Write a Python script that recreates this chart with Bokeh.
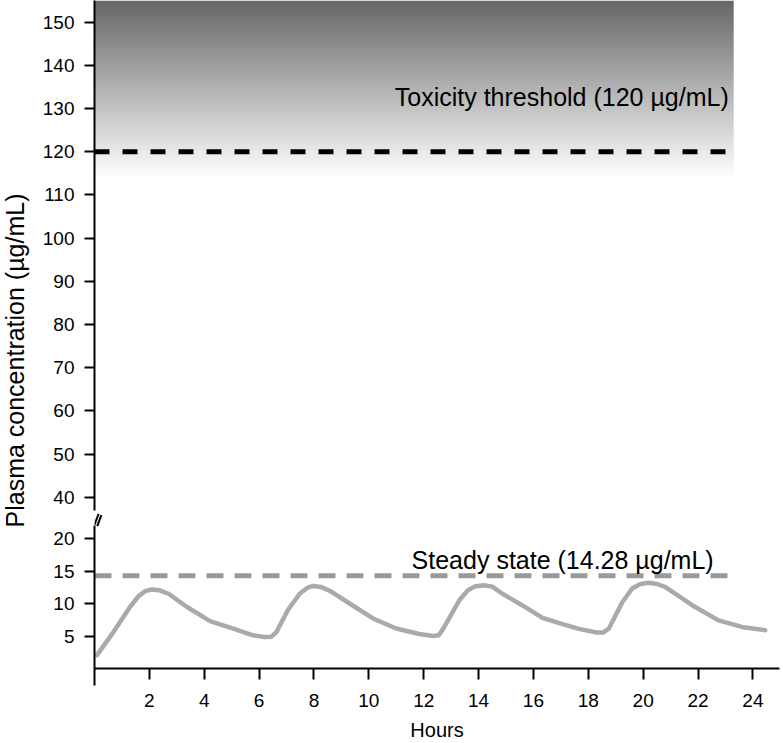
import numpy as np
from bokeh.plotting import figure
from bokeh.models import Range1d, FixedTicker, Label
from bokeh.layouts import column, row
from bokeh.embed import file_html
from bokeh.resources import INLINE

# ---- data ----
hours = [0.09, 0.69, 1.3, 1.6, 1.85, 2.09, 2.35, 2.7, 3.36, 4.21, 5.06, 5.78, 6.2,
         6.45, 6.63, 7.05, 7.48, 7.75, 7.96, 8.25, 8.6, 9.3, 10.15, 11.0, 11.84,
         12.35, 12.55, 12.75, 13.3, 13.6, 13.85, 14.2, 14.5, 14.87, 15.6, 16.33,
         17.0, 17.66, 18.3, 18.55, 18.75, 19.24, 19.6, 19.9, 20.2, 20.5, 20.8,
         21.8, 22.75, 23.6, 24.45]
concentration = [2.05, 5.6, 9.5, 11.1, 11.9, 12.15, 12.05, 11.5, 9.5, 7.3, 6.15, 5.1,
                 4.85, 4.9, 5.6, 9.0, 11.5, 12.4, 12.7, 12.55, 11.9, 10.0, 7.7, 6.15,
                 5.3, 5.0, 5.1, 6.4, 10.5, 12.0, 12.6, 12.8, 12.6, 11.5, 9.7, 7.8,
                 6.9, 6.1, 5.55, 5.55, 6.15, 10.2, 12.3, 13.0, 13.2, 13.0, 12.55,
                 9.7, 7.4, 6.4, 5.9]
toxicity_threshold = 120
steady_state = 14.28
x_ticks = [2, 4, 6, 8, 10, 12, 14, 16, 18, 20, 22, 24]
upper_y_ticks = [40, 50, 60, 70, 80, 90, 100, 110, 120, 130, 140, 150]
lower_y_ticks = [5, 10, 15, 20]
toxicity_label = "Toxicity threshold (120 \u00b5g/mL)"
steady_label = "Steady state (14.28 \u00b5g/mL)"
y_title = "Plasma concentration (\u00b5g/mL)"
x_title = "Hours"

# axis-break marks (two slashes across the gap in the y axis)
break_x0 = [0.0, 0.1]
break_y0 = [22.1, 21.9]
break_x1 = [0.15, 0.25]
break_y1 = [23.8, 23.6]

FONT = "Liberation Sans"
X_END = 24.97
LINE_END = 23.25
SHADE_END = 23.3
UP_TOP, UP_BOT = 155.03, 36.46
LOW_TOP = 24.0
TITLE_W = 30
TOTAL_H = 741

xr = Range1d(0, X_END)

def style_axis(ax, tick_out=10):
    ax.axis_line_width = 2
    ax.axis_line_color = "black"
    ax.major_tick_line_width = 2
    ax.major_tick_line_color = "black"
    ax.major_tick_out = tick_out
    ax.major_tick_in = 0
    ax.minor_tick_in = 0
    ax.major_label_text_font = FONT
    ax.major_label_text_font_size = "19px"
    ax.major_label_text_color = "black"
    ax.major_label_standoff = 10

# ---- y title panel ----
tp = figure(width=TITLE_W, height=TOTAL_H, x_range=Range1d(0, TITLE_W),
            y_range=Range1d(TOTAL_H, 0), min_border=0,
            x_axis_location=None, y_axis_location=None,
            output_backend="svg", toolbar_location=None)
tp.grid.visible = False
tp.outline_line_color = None
tp.add_layout(Label(x=14.5, y=360, text=y_title, angle=np.pi / 2,
                    text_align="center", text_baseline="middle", text_font=FONT,
                    text_font_size="25px", text_color="black"))

# ---- upper panel ----
up = figure(frame_width=685, frame_height=512, min_border_left=64, min_border_right=2,
            min_border_top=0, min_border_bottom=0, x_range=xr,
            y_range=Range1d(UP_BOT, UP_TOP), x_axis_location=None,
            output_backend="svg", toolbar_location=None)
up.grid.visible = False
up.outline_line_color = None
up.yaxis.ticker = FixedTicker(ticks=upper_y_ticks)
up.yaxis.bounds = (36.92, UP_TOP)
style_axis(up.yaxis[0])

# gradient shading above the toxicity threshold (bitmap, bottom row first)
shade_bottom = 114.0
n = 240
frac = (np.arange(n) + 0.5) / n
g = np.round(255 - frac * (255 - 102)).astype(np.uint8)
img = np.zeros((n, 2), dtype=np.uint32)
view = img.view(dtype=np.uint8).reshape((n, 2, 4))
view[:, :, 0] = g[:, None]
view[:, :, 1] = g[:, None]
view[:, :, 2] = g[:, None]
view[:, :, 3] = 255
up.image_rgba(image=[img], x=0, y=shade_bottom, dw=SHADE_END,
              dh=UP_TOP - shade_bottom)

up.segment(x0=0, y0=toxicity_threshold, x1=LINE_END, y1=toxicity_threshold,
           line_color="black", line_width=5, line_dash="15 13")
up.add_layout(Label(x=23.12, y=132.57, text=toxicity_label, text_align="right",
                    text_baseline="middle", text_font=FONT,
                    text_font_size="25px", text_color="black"))

# ---- lower panel ----
lo = figure(frame_width=685, frame_height=156, min_border_left=64, min_border_right=2,
            min_border_top=0, x_range=xr, y_range=Range1d(0, LOW_TOP),
            output_backend="svg", toolbar_location=None)
lo.grid.visible = False
lo.outline_line_color = None
lo.yaxis.ticker = FixedTicker(ticks=lower_y_ticks)
lo.yaxis.bounds = (0, 22)
style_axis(lo.yaxis[0])
lo.xaxis.ticker = FixedTicker(ticks=x_ticks, minor_ticks=[0])
lo.xaxis.bounds = (-0.63, X_END)
style_axis(lo.xaxis[0], tick_out=11)
lo.xaxis.minor_tick_out = 17
lo.xaxis.minor_tick_line_width = 2
lo.xaxis.minor_tick_line_color = "black"
lo.xaxis.major_label_standoff = 8
lo.xaxis.axis_label = x_title
lo.xaxis.axis_label_text_font = FONT
lo.xaxis.axis_label_text_font_size = "20px"
lo.xaxis.axis_label_text_font_style = "normal"
lo.xaxis.axis_label_text_color = "black"
lo.xaxis.axis_label_standoff = 9

lo.segment(x0=0, y0=steady_state, x1=LINE_END, y1=steady_state,
           line_color="#9a9a9a", line_width=5, line_dash="17 11")
lo.line(hours, concentration, line_color="#aaaaaa", line_width=4.5,
        line_join="round", line_cap="round")
lo.add_layout(Label(x=22.57, y=16.7, text=steady_label, text_align="right",
                    text_baseline="middle", text_font=FONT,
                    text_font_size="25px", text_color="black"))
lo.segment(x0=break_x0, y0=break_y0, x1=break_x1, y1=break_y1,
           line_color="black", line_width=2)

layout = row(tp, column(up, lo, spacing=0), spacing=0)
open("out.html", "w").write(file_html(layout, INLINE))
